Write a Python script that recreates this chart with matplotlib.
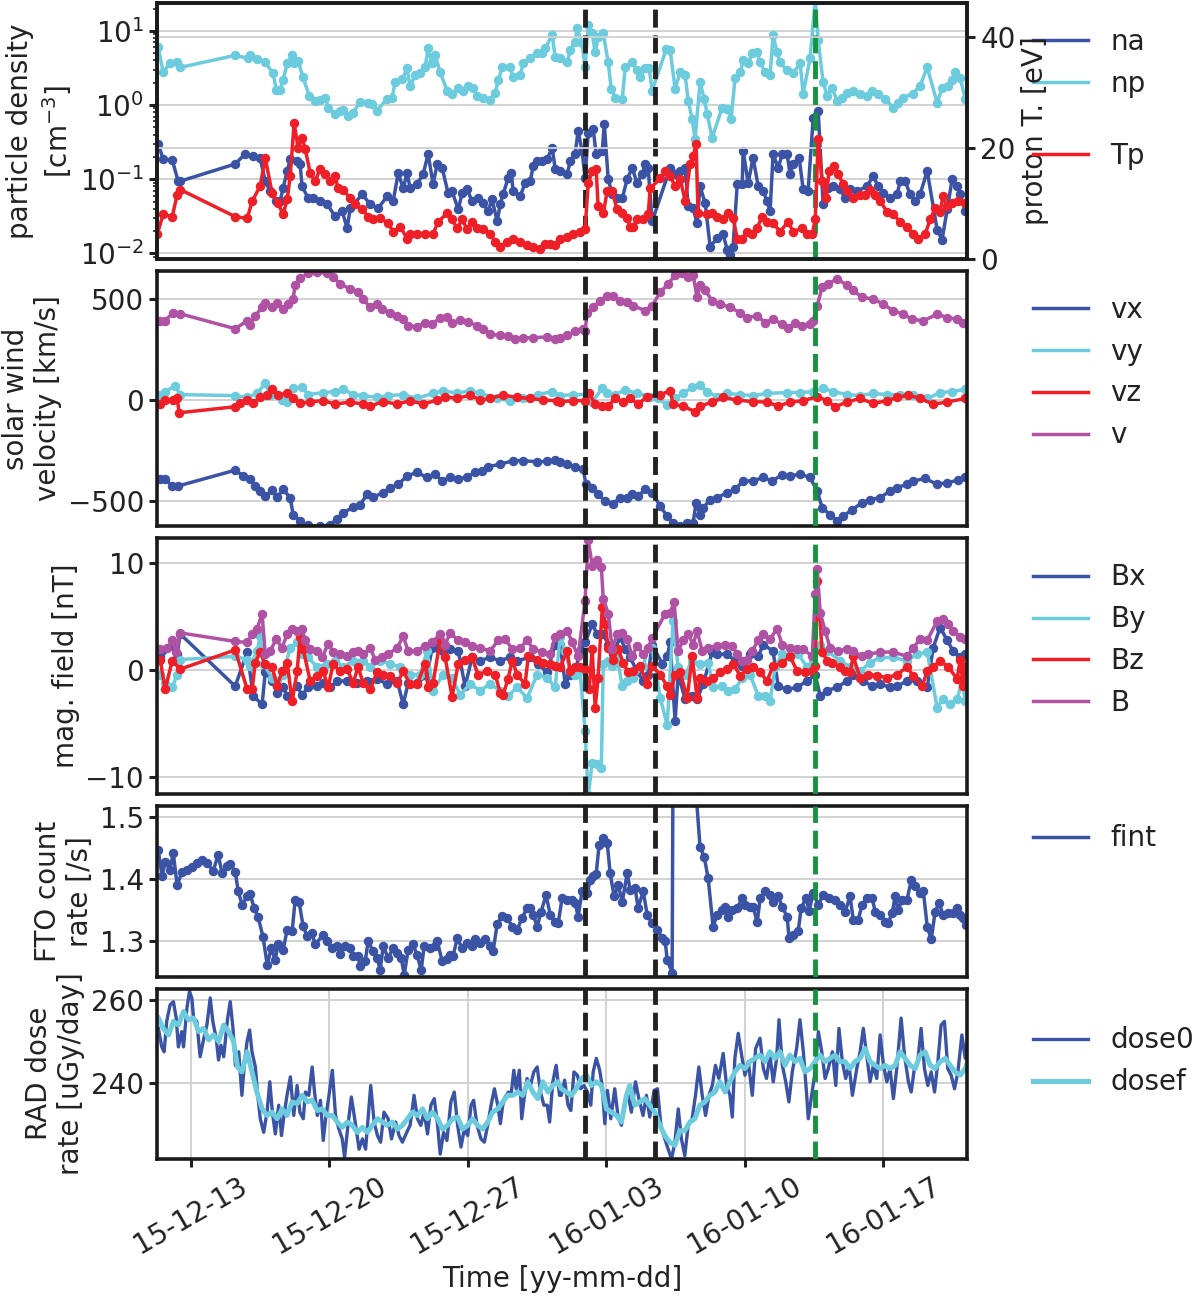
import numpy as np
import pandas as pd
import matplotlib
matplotlib.use("Agg")
import matplotlib.pyplot as plt
import matplotlib.dates as mdates
from matplotlib.lines import Line2D

plt.rcParams['font.family'] = ['DejaVu Sans']
plt.rcParams['font.size'] = 20
plt.rcParams['text.color'] = '#222222'
plt.rcParams['axes.labelcolor'] = '#222222'
plt.rcParams['xtick.color'] = '#222222'
plt.rcParams['ytick.color'] = '#222222'

# ---------------- data (time in days after 2015-12-13 00:00) ----------------
BASE = pd.Timestamp('2015-12-13')

t_np = [-1.65, -1.40, -1.05, -0.69, -0.54, 2.24, 2.89, 3.00, 3.35, 3.76, 4.16, 4.31, 4.51, 4.66, 4.87, 5.12, 5.22, 5.42,
        5.67, 5.98, 6.28, 6.53, 6.79, 6.94, 7.29, 7.54, 7.70, 7.95, 8.20, 8.55, 8.96, 9.16, 9.41, 9.92, 10.17, 10.32,
        10.68, 10.93, 11.08, 11.33, 11.59, 11.84, 11.99, 12.19, 12.35, 12.60, 12.95, 13.20, 13.51, 13.76, 14.01, 14.26,
        14.47, 14.77, 15.12, 15.38, 15.53, 15.73, 16.13, 16.29, 16.64, 16.79, 17.15, 17.50, 17.75, 17.90, 18.26, 18.41,
        18.66, 19.02, 19.17, 19.42, 19.52, 19.77, 19.92, 20.08, 20.28, 20.43, 20.58, 20.84, 21.09, 21.24, 21.44, 21.80,
        21.95, 22.30, 22.55, 22.70, 22.96, 23.16, 23.31, 24.02, 24.22, 24.47, 24.73, 24.98, 25.13, 25.33, 25.48, 25.73,
        25.94, 26.09, 26.34, 26.85, 27.10, 27.30, 27.50, 27.76, 27.91, 28.16, 28.36, 28.61, 28.77, 29.02, 29.27, 29.42,
        29.62, 29.78, 30.13, 30.43, 30.79, 30.94, 31.29, 31.55, 31.70, 31.95, 32.15, 32.40, 32.66, 32.91, 33.16, 33.47,
        33.82, 34.17, 34.43, 34.73, 35.08, 35.49, 35.74, 35.99, 36.50, 36.85, 37.21, 37.71, 37.96, 38.27, 38.47, 38.62,
        38.88, 39.13]
np_log10 = [0.783, 0.444, 0.562, 0.575, 0.507, 0.670, 0.630, 0.670, 0.616, 0.575, 0.426, 0.209, 0.209, 0.331, 0.562,
            0.670, 0.562, 0.589, 0.372, 0.128, 0.060, 0.073, 0.100, -0.035, -0.117, -0.076, -0.062, -0.144, -0.103,
            0.046, 0.033, 0.019, -0.076, 0.087, 0.100, 0.304, 0.345, 0.494, 0.250, 0.399, 0.426, 0.507, 0.765, 0.562,
            0.670, 0.440, 0.195, 0.155, 0.223, 0.195, 0.263, 0.236, 0.128, 0.100, 0.073, 0.168, 0.331, 0.507, 0.507,
            0.372, 0.399, 0.562, 0.630, 0.697, 0.697, 0.765, 0.942, 0.643, 0.630, 0.575, 0.738, 0.847, 1.037, 0.833,
            0.507, 1.077, 0.969, 0.711, 0.915, 0.969, 0.575, 0.222, 0.100, 0.087, 0.507, 0.575, 0.467, 0.372, 0.494,
            0.494, 0.195, 0.752, 0.738, 0.222, 0.440, 0.399, 0.060, -0.185, -0.457, 0.304, 0.087, -0.117, -0.443,
            -0.035, -0.049, -0.185, 0.358, 0.440, 0.602, 0.562, 0.697, 0.711, 0.575, 0.440, 0.399, 0.942, 0.711, 0.575,
            0.467, 0.426, 0.562, 0.155, 0.630, 1.420, 0.874, 0.304, 0.128, 0.223, 0.060, 0.100, 0.168, 0.195, 0.155,
            0.128, 0.195, 0.155, 0.087, -0.035, 0.033, 0.100, 0.155, 0.263, 0.507, 0.033, 0.223, 0.263, 0.331, 0.440,
            0.358, 0.087]

t_na = [-1.65, -1.40, -0.94, -0.64, -0.54, 2.24, 2.74, 3.15, 3.50, 3.76, 4.01, 4.31, 4.51, 4.66, 4.87, 5.02, 5.37, 5.52,
        5.62, 5.93, 6.18, 6.53, 6.89, 7.29, 7.65, 7.90, 8.05, 8.66, 9.06, 9.46, 9.92, 10.22, 10.48, 10.73, 10.93, 11.08,
        11.43, 11.74, 11.99, 12.24, 12.45, 12.70, 13.00, 13.20, 13.51, 13.71, 13.96, 14.21, 14.51, 14.77, 15.02, 15.22,
        15.48, 15.63, 15.78, 16.03, 16.19, 16.29, 16.64, 16.89, 17.15, 17.30, 17.50, 17.75, 18.00, 18.26, 18.41, 18.66,
        19.02, 19.17, 19.42, 19.57, 19.77, 19.92, 20.08, 20.33, 20.48, 20.79, 20.89, 21.09, 21.29, 21.54, 21.80, 22.05,
        22.30, 22.55, 22.80, 22.96, 23.11, 23.31, 24.22, 24.47, 24.73, 24.98, 25.13, 25.38, 25.58, 25.73, 25.99, 26.24,
        26.59, 26.90, 27.10, 27.25, 27.40, 27.61, 27.86, 27.91, 28.16, 28.41, 28.67, 28.92, 29.12, 29.27, 29.42, 29.68,
        29.88, 30.13, 30.28, 30.43, 30.74, 30.94, 31.19, 31.45, 31.70, 31.95, 32.20, 32.45, 32.81, 33.06, 33.31, 33.67,
        34.17, 34.48, 34.73, 34.98, 35.33, 35.69, 35.84, 36.09, 36.35, 36.60, 36.85, 37.21, 37.71, 37.96, 38.22, 38.47,
        38.72, 38.88, 39.13]
na_log10 = [-0.524, -0.728, -0.742, -1.027, -1.027, -0.795, -0.660, -0.687, -0.714, -1.027, -1.162, -1.298, -1.298,
            -1.121, -0.890, -0.728, -0.755, -0.795, -1.094, -1.257, -1.257, -1.298, -1.338, -1.501, -1.433, -1.664,
            -1.393, -1.203, -1.338, -1.393, -1.230, -1.298, -0.918, -1.121, -0.918, -1.121, -1.067, -0.931, -0.660,
            -1.067, -0.795, -0.849, -1.189, -1.162, -1.406, -1.189, -1.134, -1.298, -1.257, -1.325, -1.433, -1.270,
            -1.569, -1.338, -1.203, -0.985, -0.918, -1.162, -1.230, -1.053, -1.027, -0.822, -0.755, -0.755, -0.728,
            -0.578, -0.863, -0.890, -0.931, -0.755, -0.660, -0.347, -0.619, -0.985, -0.375, -0.320, -0.660, -0.619,
            -0.252, -0.999, -1.203, -1.257, -1.257, -0.999, -0.849, -1.053, -0.931, -0.795, -0.849, -1.569, -0.849,
            -0.931, -0.890, -0.849, -1.365, -1.393, -1.596, -1.094, -1.325, -1.908, -1.799, -1.745, -1.949, -2.017,
            -1.908, -1.067, -1.067, -0.619, -1.053, -0.714, -1.094, -1.162, -1.298, -1.433, -0.660, -0.849, -0.660,
            -0.660, -0.931, -0.795, -0.714, -1.134, -1.162, -0.172, -0.076, -1.338, -1.121, -1.094, -1.134, -1.257,
            -1.134, -1.162, -1.094, -0.958, -1.094, -1.189, -1.257, -1.203, -1.027, -1.027, -1.203, -1.298, -1.203,
            -0.890, -1.680, -1.816, -1.406, -0.999, -1.094, -1.203, -1.433]

t_tp = [-1.70, -1.40, -0.94, -0.69, -0.54, 2.24, 2.85, 3.10, 3.50, 3.76, 4.11, 4.41, 4.66, 4.87, 5.02, 5.22, 5.42, 5.62,
        5.78, 6.03, 6.28, 6.53, 6.79, 7.04, 7.29, 7.44, 7.70, 8.05, 8.30, 8.66, 8.96, 9.21, 9.57, 9.97, 10.22, 10.58,
        10.93, 11.08, 11.43, 11.84, 12.24, 12.50, 12.95, 13.20, 13.46, 13.71, 13.96, 14.21, 14.47, 14.77, 15.12, 15.38,
        15.63, 15.98, 16.29, 16.64, 16.99, 17.30, 17.65, 17.90, 18.16, 18.41, 18.66, 19.02, 19.32, 19.67, 19.92, 20.08,
        20.28, 20.48, 20.58, 20.84, 21.04, 21.29, 21.54, 21.80, 22.05, 22.20, 22.35, 22.55, 22.86, 23.11, 23.21, 23.72,
        23.97, 24.22, 24.47, 24.73, 24.98, 25.23, 25.38, 25.53, 25.63, 26.09, 26.34, 26.59, 26.90, 27.15, 27.40, 27.61,
        27.86, 28.11, 28.36, 28.61, 28.87, 29.12, 29.42, 29.78, 30.18, 30.43, 30.89, 31.14, 31.40, 31.55, 31.70, 31.90,
        32.10, 32.25, 32.51, 32.71, 32.96, 33.16, 33.47, 33.82, 34.07, 34.33, 34.58, 34.83, 35.18, 35.49, 35.84, 36.19,
        36.50, 36.75, 37.11, 37.36, 37.61, 37.86, 38.01, 38.22, 38.47, 38.77, 39.13]
tp_ev = [4.4, 8.0, 7.6, 11.6, 12.5, 7.6, 7.3, 10.4, 13.1, 18.2, 11.8, 10.0, 8.0, 10.7, 14.9, 24.5, 20.0, 21.8, 19.8,
         15.5, 14.0, 16.2, 15.3, 14.0, 14.9, 12.7, 12.5, 10.9, 9.8, 8.9, 7.6, 7.1, 7.3, 6.4, 4.9, 5.8, 3.6, 4.5, 4.4, 4.4,
         4.5, 6.7, 8.2, 7.1, 5.5, 7.1, 5.3, 6.7, 5.5, 5.3, 4.5, 3.1, 2.2, 3.1, 3.5, 3.1, 2.5, 2.2, 1.8, 2.7, 2.7, 2.5, 3.6,
         4.0, 4.5, 4.9, 5.3, 13.6, 15.8, 16.2, 9.5, 8.2, 12.2, 12.2, 8.9, 8.2, 7.3, 5.8, 5.8, 7.1, 7.1, 8.0, 12.7, 14.5,
         15.8, 14.9, 13.1, 14.4, 10.4, 17.1, 18.5, 20.7, 8.2, 8.0, 8.2, 7.6, 7.1, 8.2, 7.3, 3.6, 3.5, 4.9, 4.4, 5.5, 7.6,
         6.7, 6.4, 4.9, 6.7, 4.9, 5.5, 4.5, 4.4, 7.1, 21.6, 14.0, 10.9, 15.8, 16.7, 15.3, 13.5, 12.2, 10.9, 11.6, 11.6,
         12.5, 11.6, 10.4, 8.5, 8.0, 6.7, 5.8, 4.4, 3.6, 4.5, 7.1, 9.1, 8.5, 11.3, 9.5, 10.0, 10.4, 10.0]

t_v = [-1.55, -1.30, -0.89, -0.54, 2.24, 2.85, 3.00, 3.25, 3.60, 3.76, 4.11, 4.36, 4.66, 4.92, 5.17, 5.27, 5.52, 5.93,
       6.38, 6.89, 7.19, 7.54, 8.05, 8.45, 8.71, 9.06, 9.41, 9.67, 10.07, 10.43, 10.73, 10.98, 11.43, 11.84, 12.19, 12.60,
       12.95, 13.20, 13.61, 14.01, 14.47, 14.77, 15.12, 15.63, 16.03, 16.39, 16.79, 17.30, 18.00, 18.41, 18.66, 19.02,
       19.42, 19.82, 19.92, 20.03, 20.33, 20.68, 21.04, 21.34, 21.69, 22.05, 22.35, 22.96, 23.31, 23.72, 24.12, 24.47,
       24.83, 25.13, 25.38, 25.58, 25.73, 25.99, 26.34, 26.75, 27.25, 27.76, 28.11, 28.62, 29.02, 29.42, 29.88, 30.18,
       30.54, 30.89, 31.29, 31.45, 31.65, 31.90, 32.20, 32.66, 33.16, 33.47, 33.92, 34.48, 34.98, 35.49, 35.99, 36.45,
       37.01, 37.71, 38.22, 38.72, 39.02]
v_kms = [392, 392, 433, 427, 353, 392, 372, 417, 458, 480, 458, 480, 452, 477, 502, 567, 602, 627, 632, 627, 608, 575,
         550, 537, 500, 458, 475, 450, 433, 417, 400, 367, 363, 383, 375, 408, 413, 383, 397, 387, 367, 350, 325, 320, 317,
         303, 308, 308, 313, 303, 308, 320, 342, 350, 342, 433, 458, 492, 517, 513, 492, 483, 467, 442, 467, 533, 575, 617,
         630, 608, 617, 508, 567, 542, 492, 475, 458, 433, 408, 417, 383, 400, 375, 358, 383, 367, 375, 392, 467, 558, 575,
         600, 567, 542, 508, 500, 475, 442, 425, 400, 392, 425, 408, 400, 383]

t_vx = [-1.55, -1.30, -0.94, -0.64, 2.24, 2.65, 3.00, 3.25, 3.50, 3.76, 4.11, 4.36, 4.66, 5.02, 5.17, 5.52, 5.93, 6.53,
        7.04, 7.39, 7.70, 8.20, 8.55, 8.91, 9.21, 9.72, 10.07, 10.48, 10.93, 11.43, 11.94, 12.35, 12.70, 13.10, 13.51,
        13.96, 14.37, 14.72, 15.02, 15.63, 16.29, 16.79, 17.50, 18.00, 18.41, 18.66, 19.02, 19.42, 19.82, 19.97, 20.28,
        20.58, 20.94, 21.34, 21.69, 22.05, 22.30, 22.60, 22.96, 23.31, 23.72, 24.07, 24.37, 24.73, 25.08, 25.38, 25.53,
        25.73, 25.89, 26.24, 26.59, 27.10, 27.50, 27.91, 28.41, 28.92, 29.37, 29.88, 30.28, 30.79, 31.29, 31.65, 31.90,
        32.30, 32.66, 32.96, 33.42, 33.92, 34.33, 34.83, 35.33, 35.69, 36.19, 36.50, 37.11, 37.71, 38.22, 38.77, 39.13]
vx_kms = [-392, -392, -425, -425, -347, -375, -392, -425, -450, -475, -447, -480, -442, -483, -567, -600, -620, -625,
          -617, -587, -558, -530, -517, -467, -480, -458, -433, -417, -375, -358, -383, -367, -400, -380, -392, -380,
          -358, -353, -330, -317, -300, -300, -305, -303, -297, -308, -317, -333, -342, -417, -433, -467, -500, -513,
          -483, -483, -467, -475, -442, -458, -525, -575, -608, -625, -608, -608, -508, -567, -533, -492, -483, -458,
          -442, -400, -400, -383, -400, -370, -375, -367, -383, -450, -533, -567, -600, -575, -542, -508, -492, -483,
          -450, -433, -417, -400, -388, -417, -408, -397, -380]

t_vy = [-1.55, -1.30, -0.79, -0.54, 2.24, 2.85, 3.35, 3.76, 4.01, 4.61, 4.87, 5.17, 5.62, 5.93, 6.69, 7.29, 7.70, 8.20,
        8.71, 9.41, 9.97, 10.73, 11.43, 12.24, 12.75, 13.46, 14.11, 14.62, 15.48, 16.13, 16.79, 17.55, 18.26, 18.66,
        19.32, 20.03, 20.28, 20.79, 21.04, 21.44, 21.95, 22.55, 23.21, 23.62, 24.07, 24.47, 24.88, 25.33, 25.73, 26.09,
        26.59, 27.10, 27.76, 28.41, 29.12, 30.13, 30.79, 31.45, 31.95, 32.45, 33.16, 33.82, 34.48, 35.18, 35.84, 36.50,
        37.21, 37.86, 38.47, 39.13]
vy_kms = [27, 42, 70, 27, 22, 13, 33, 83, 27, 0, -8, 58, 63, 27, 37, 42, 53, 27, 22, 13, 22, 27, 8, 33, 47, 33, 47, 33,
          8, -5, 8, 27, 42, 22, 27, 27, -8, 58, 37, 27, 50, 33, 17, 8, -25, 8, 33, 63, 75, 42, 17, 33, 27, 22, 33, 37,
          37, 42, 58, 42, 27, 22, 33, 27, 27, 27, 8, 37, 42, 53]

t_vz = [-1.55, -1.30, -0.89, -0.69, -0.59, 2.24, 2.49, 2.85, 3.15, 3.50, 3.85, 4.11, 4.41, 4.87, 5.17, 5.52, 6.03, 6.69,
        7.29, 8.05, 8.71, 9.06, 9.72, 10.43, 11.08, 11.74, 12.45, 12.85, 13.46, 14.11, 14.62, 15.12, 15.78, 16.49, 17.15,
        17.80, 18.51, 18.66, 19.32, 19.92, 20.13, 20.43, 20.79, 21.09, 21.44, 21.85, 22.20, 22.60, 23.06, 23.72, 24.22,
        24.37, 24.88, 25.48, 25.73, 26.34, 26.90, 27.61, 28.41, 29.12, 29.68, 30.28, 30.94, 31.65, 32.15, 32.55, 33.16,
        33.82, 34.48, 35.18, 35.69, 36.24, 36.85, 37.51, 38.22, 39.13]
vz_kms = [-20, 0, 0, 8, -63, -33, -17, 0, -17, 17, 25, 53, 25, 33, 8, -17, -8, -3, -20, -10, -20, -30, -8, -20, -3, -20,
          0, 17, 8, 25, 0, 8, 25, 13, 8, 0, -3, -8, -3, -3, 33, -20, -30, -30, 8, -10, 8, -20, 17, 25, 47, -20, -30, -58,
          -30, -10, 13, 0, -8, -10, -30, -10, -3, 17, -3, -33, -10, 8, -17, -3, 13, 25, 8, -20, -10, 8]

t_b = [-1.55, -1.20, -0.94, -0.74, -0.54, 2.24, 2.85, 3.10, 3.35, 3.60, 3.76, 4.01, 4.31, 4.61, 4.87, 5.12, 5.37, 5.62,
       5.78, 6.03, 6.38, 6.64, 6.94, 7.19, 7.54, 7.90, 8.20, 8.45, 8.71, 9.06, 9.31, 9.67, 9.97, 10.43, 10.73, 10.98,
       11.43, 11.84, 12.19, 12.60, 12.85, 13.10, 13.51, 13.86, 14.21, 14.62, 15.12, 15.53, 15.88, 16.24, 16.64, 16.99,
       17.30, 17.75, 18.16, 18.41, 18.66, 19.02, 19.27, 19.57, 19.92, 20.08, 20.28, 20.53, 20.74, 20.84, 21.09, 21.29,
       21.54, 21.80, 22.05, 22.30, 22.55, 22.86, 23.11, 23.31, 23.97, 24.22, 24.42, 24.62, 24.88, 25.13, 25.38, 25.58,
       25.84, 26.14, 26.59, 27.00, 27.35, 27.61, 27.86, 28.11, 28.36, 28.67, 28.92, 29.27, 29.62, 29.88, 30.28, 30.64,
       30.94, 31.40, 31.55, 31.65, 31.80, 32.05, 32.30, 32.71, 33.16, 33.47, 33.92, 34.22, 34.83, 35.49, 36.19, 36.50,
       36.85, 37.21, 37.71, 38.01, 38.27, 38.52, 38.88, 39.13]
b_nt = [2.0, 2.1, 2.8, 1.7, 3.5, 2.7, 2.6, 3.4, 3.9, 5.3, 1.5, 1.8, 2.9, 2.1, 3.4, 3.9, 3.7, 3.9, 2.8, 2.0, 1.8, 1.2, 2.5,
        1.7, 1.5, 1.3, 1.7, 1.8, 1.5, 2.1, 1.0, 1.2, 1.5, 2.1, 3.2, 1.8, 1.8, 2.3, 2.6, 3.4, 2.4, 3.5, 2.8, 2.6, 2.3, 2.1,
        1.8, 2.8, 2.9, 2.0, 2.1, 2.8, 2.0, 1.7, 1.5, 3.1, 3.4, 3.7, 2.6, 1.3, 6.5, 12.2, 9.8, 10.3, 9.7, 6.7, 5.3, 2.0,
        3.4, 3.5, 2.9, 1.3, 2.3, 1.5, 2.1, 3.0, 5.3, 5.4, 6.4, 1.8, 2.8, 3.4, 2.4, 3.7, 1.8, 2.1, 2.3, 2.4, 2.3, 1.5, 0.9,
        1.0, 1.8, 2.8, 3.4, 2.9, 3.9, 2.4, 2.1, 2.0, 2.0, 1.3, 7.1, 9.5, 5.4, 3.7, 2.1, 1.8, 2.0, 1.8, 1.3, 1.5, 1.7, 1.7,
        1.3, 2.1, 2.9, 2.8, 4.6, 4.8, 4.3, 3.7, 3.1, 2.9]

t_bx = [-1.55, -0.94, -0.69, -0.54, 2.24, 2.85, 3.15, 3.60, 3.76, 4.11, 4.36, 4.66, 4.87, 5.37, 5.62, 5.93, 6.38, 6.69,
        7.04, 7.39, 7.90, 8.40, 8.91, 9.41, 9.92, 10.43, 10.73, 10.98, 11.43, 11.94, 12.19, 12.50, 12.75, 13.10, 13.51,
        13.86, 14.21, 14.62, 15.12, 15.63, 16.13, 16.49, 17.15, 17.55, 18.00, 18.41, 18.66, 18.92, 19.17, 19.42, 19.67,
        19.92, 20.28, 20.53, 20.84, 21.09, 21.34, 21.69, 21.95, 22.20, 22.55, 22.86, 23.11, 23.31, 23.82, 24.07, 24.22,
        24.47, 24.62, 24.98, 25.33, 25.58, 25.89, 26.34, 26.59, 27.10, 27.50, 27.86, 28.26, 28.67, 28.92, 29.42, 29.68,
        30.13, 30.64, 31.14, 31.55, 31.80, 32.15, 32.66, 33.16, 33.47, 33.97, 34.43, 34.83, 35.33, 35.69, 36.19, 36.70,
        37.21, 37.51, 37.86, 38.22, 38.52, 38.88, 39.13]
bx_nt = [1.2, 2.3, 1.5, 3.4, -1.5, 1.7, -2.4, -3.2, -0.2, -1.0, -2.1, -1.6, -2.4, -1.5, -2.3, -1.6, -1.5, -1.2, -1.6,
         -1.0, -1.0, -1.2, -1.0, -0.8, -1.3, -1.0, -3.2, -1.2, -1.2, -0.5, 2.1, 2.1, 1.8, 2.0, 1.8, -1.5, 1.2, 0.9, 1.2,
         0.9, 1.2, 0.9, 1.2, 0.6, -0.2, 2.4, 2.4, -1.3, -0.4, -0.2, 1.8, 2.6, 4.3, 3.4, 3.4, 2.4, 1.5, 3.1, 2.0, 1.2, -0.1,
         -1.0, -0.4, 2.4, 0.6, 1.3, 2.6, -4.8, -0.4, -2.7, -2.4, -2.7, -1.3, 1.7, 1.5, 1.5, 0.9, 0.4, 1.5, 1.3, 2.4, 1.8,
         -1.5, -1.8, -1.6, -1.0, -0.4, -2.4, -1.9, -1.6, -1.0, -0.4, -1.0, -1.5, -1.3, -1.6, -1.5, -1.0, -1.0, -1.6, 2.1,
         4.0, 2.8, 1.8, 1.2, 1.5]

t_by = [-1.55, -1.30, -0.94, -0.69, -0.54, 2.24, 2.85, 3.00, 3.35, 3.50, 3.66, 4.11, 4.36, 4.66, 5.02, 5.37, 5.62, 5.93,
        6.38, 6.89, 7.29, 7.70, 8.20, 8.71, 9.06, 9.57, 10.07, 10.58, 11.08, 11.59, 11.94, 12.24, 12.75, 13.20, 13.61,
        14.11, 14.62, 15.12, 15.63, 16.03, 16.49, 16.99, 17.50, 18.00, 18.41, 18.66, 18.92, 19.17, 19.42, 19.67, 19.92,
        20.08, 20.28, 20.53, 20.74, 20.84, 21.09, 21.29, 21.54, 21.80, 22.05, 22.35, 22.86, 23.11, 23.31, 23.72, 24.07,
        24.37, 24.62, 24.98, 25.33, 25.73, 26.14, 26.39, 26.85, 27.15, 27.50, 27.86, 28.26, 28.67, 29.02, 29.27, 29.52,
        29.88, 30.28, 30.69, 31.14, 31.45, 31.80, 32.15, 32.81, 33.31, 33.82, 34.33, 34.83, 35.49, 36.19, 36.70, 37.21,
        37.71, 38.01, 38.37, 38.72, 38.98, 39.13]
by_nt = [-0.4, -1.2, -1.6, -0.4, 1.0, 1.3, 1.0, 0.4, 1.8, 3.2, 0.6, -0.7, -1.0, -0.4, 2.1, 2.6, 1.5, 1.2, 0.3, 0.6, 0.9,
         0.3, 0.9, 0.9, 0.3, 0.9, 0.6, 0.3, -0.4, -0.4, 1.8, -1.9, -0.4, -0.7, -2.3, -1.3, -1.9, -1.3, -1.9, -2.4, -1.6,
         -2.6, -0.4, -0.7, -1.6, 3.1, 1.8, -0.1, -0.4, -0.1, -5.7, -11.7, -8.7, -8.8, -9.2, 0.6, 0.9, 0.4, 1.2, -1.5,
         -1.0, -0.7, 0.4, 2.1, 2.1, -2.6, -5.1, 4.6, 0.3, -0.4, 0.9, 0.6, 0.7, -1.6, -1.5, -1.9, -1.8, -0.7, -0.4, -2.4,
         -2.4, -2.9, 0.3, 1.5, 1.2, 1.5, 0.3, 0.9, 2.4, 1.8, 0.9, 0.3, -0.1, 0.7, 1.2, 1.2, 0.9, 1.5, 1.7, -3.5, -2.7,
         -3.2, -2.7, -1.0, -2.9]

t_bz = [-1.55, -1.30, -0.94, -0.54, 2.24, 2.85, 3.10, 3.25, 3.50, 3.76, 4.11, 4.36, 4.61, 4.87, 5.12, 5.37, 5.52, 5.67,
        6.03, 6.38, 6.69, 6.94, 7.19, 7.54, 7.90, 8.20, 8.45, 8.71, 9.06, 9.41, 9.72, 10.07, 10.43, 10.73, 11.08, 11.43,
        11.84, 11.99, 12.24, 12.60, 12.85, 13.20, 13.51, 13.86, 14.21, 14.51, 14.97, 15.38, 15.63, 15.78, 16.03, 16.24,
        16.49, 16.89, 17.05, 17.50, 17.80, 18.16, 18.41, 18.66, 19.02, 19.17, 19.42, 19.67, 19.92, 20.13, 20.28, 20.43,
        20.58, 20.79, 20.94, 21.09, 21.34, 21.59, 21.85, 22.10, 22.35, 22.70, 23.06, 23.31, 23.72, 24.07, 24.22, 24.47,
        24.73, 25.08, 25.33, 25.58, 25.73, 26.09, 26.39, 26.75, 27.10, 27.40, 27.76, 28.11, 28.41, 28.77, 29.12, 29.42,
        29.88, 30.28, 30.64, 31.04, 31.40, 31.55, 31.65, 31.90, 32.15, 32.40, 32.81, 33.06, 33.31, 33.47, 33.82, 34.22,
        34.68, 35.18, 35.69, 36.19, 36.50, 36.95, 37.21, 37.51, 37.86, 38.27, 38.72, 38.88, 39.02, 39.13]
bz_nt = [1.0, -1.8, 0.9, 0.1, 1.9, -1.8, -1.8, 0.7, 1.7, 0.6, 0.3, -1.5, -0.1, 0.7, -2.9, -0.1, 3.1, 2.0, -1.0, -0.5,
         -0.1, -1.6, 0.6, -0.1, 0.1, -1.2, 0.3, -1.2, -1.8, -0.2, -0.4, -0.5, -1.2, -0.1, -1.3, -1.3, 0.6, -1.6, -1.2,
         2.8, 1.2, -2.5, 0.6, 1.0, 1.2, -0.4, -0.1, -0.4, -2.1, -2.3, -0.8, 0.9, -0.4, -1.3, 1.3, 1.0, 0.7, 0.6, 0.4, 0.3,
         1.8, -0.1, 0.3, 0.3, 0.1, -1.8, 2.0, -3.5, -0.7, 5.9, 4.3, 2.1, 1.0, 2.0, 0.7, -0.2, -0.1, 0.4, -1.3, 0.4, -0.4,
         -1.5, -2.3, -0.4, -0.2, -2.6, 1.3, -2.6, -0.7, -1.0, -0.7, -0.2, 0.1, 0.6, -0.5, 0.1, 0.3, -0.2, -1.0, 0.4, 0.7,
         1.3, -0.1, -0.2, -0.1, 0.4, 8.4, 1.7, 0.9, 0.7, 0.3, -0.1, -0.2, 1.3, -0.7, -0.4, -0.5, -0.7, -0.4, 0.3, -0.5,
         -1.5, -0.1, 0.3, 0.9, 0.3, -0.8, 1.0, -1.5, 0.3]

t_fint = [-1.65, -1.45, -1.30, -1.05, -0.89, -0.69, -0.44, -0.19, 0.07, 0.32, 0.57, 0.82, 1.13, 1.38, 1.58, 1.83, 1.99,
          2.24, 2.39, 2.59, 2.85, 3.00, 3.20, 3.40, 3.65, 3.86, 4.06, 4.26, 4.41, 4.66, 4.87, 5.12, 5.27, 5.47, 5.67,
          5.88, 6.13, 6.28, 6.69, 6.89, 7.14, 7.39, 7.54, 7.80, 8.05, 8.20, 8.45, 8.55, 8.81, 8.96, 9.21, 9.41, 9.57,
          9.72, 9.97, 10.22, 10.43, 10.63, 10.78, 10.98, 11.23, 11.43, 11.64, 11.79, 12.09, 12.35, 12.45, 12.70, 12.95,
          13.10, 13.25, 13.46, 13.71, 13.96, 14.21, 14.37, 14.62, 14.87, 15.12, 15.27, 15.48, 15.73, 15.98, 16.24, 16.49,
          16.74, 16.99, 17.15, 17.30, 17.50, 17.70, 17.95, 18.16, 18.41, 18.56, 18.76, 19.02, 19.27, 19.42, 19.57, 19.77,
          20.03, 20.18, 20.33, 20.48, 20.63, 20.84, 21.04, 21.19, 21.39, 21.60, 21.80, 22.05, 22.20, 22.45, 22.60, 22.86,
          23.06, 23.31, 23.56, 23.82, 23.97, 24.07, 24.32, 24.42, 25.73, 25.94, 26.14, 26.39, 26.59, 26.85, 27.00, 27.15,
          27.35, 27.61, 27.86, 28.01, 28.26, 28.41, 28.62, 28.77, 29.02, 29.27, 29.42, 29.68, 29.88, 30.13, 30.23, 30.43,
          30.69, 30.84, 31.09, 31.24, 31.45, 31.70, 31.95, 32.25, 32.56, 32.81, 33.06, 33.31, 33.47, 33.72, 33.92, 34.17,
          34.43, 34.58, 34.83, 35.08, 35.23, 35.44, 35.59, 35.74, 35.94, 36.19, 36.40, 36.60, 36.85, 37.01, 37.21, 37.41,
          37.61, 37.81, 38.01, 38.27, 38.52, 38.72, 38.88, 39.02, 39.17]
fint_rate = [1.447, 1.404, 1.428, 1.415, 1.442, 1.390, 1.412, 1.415, 1.420, 1.426, 1.430, 1.426, 1.413, 1.439, 1.409,
             1.421, 1.424, 1.412, 1.381, 1.358, 1.372, 1.375, 1.353, 1.338, 1.306, 1.261, 1.288, 1.269, 1.294, 1.285,
             1.318, 1.315, 1.366, 1.363, 1.324, 1.307, 1.312, 1.294, 1.310, 1.299, 1.288, 1.291, 1.279, 1.291, 1.288,
             1.275, 1.275, 1.259, 1.267, 1.299, 1.283, 1.272, 1.253, 1.291, 1.272, 1.288, 1.280, 1.272, 1.245, 1.285,
             1.294, 1.277, 1.253, 1.291, 1.288, 1.291, 1.299, 1.267, 1.270, 1.277, 1.275, 1.304, 1.288, 1.296, 1.291,
             1.302, 1.296, 1.303, 1.291, 1.283, 1.327, 1.340, 1.337, 1.323, 1.318, 1.337, 1.353, 1.353, 1.342, 1.323,
             1.347, 1.374, 1.342, 1.331, 1.328, 1.369, 1.366, 1.366, 1.361, 1.339, 1.380, 1.377, 1.398, 1.404, 1.408,
             1.455, 1.466, 1.458, 1.409, 1.372, 1.390, 1.363, 1.409, 1.382, 1.385, 1.353, 1.380, 1.342, 1.328, 1.318,
             1.304, 1.299, 1.269, 1.248, 2.020, 1.452, 1.436, 1.401, 1.323, 1.342, 1.350, 1.355, 1.339, 1.350, 1.353,
             1.369, 1.358, 1.355, 1.355, 1.330, 1.369, 1.380, 1.374, 1.363, 1.372, 1.355, 1.339, 1.304, 1.310, 1.315,
             1.353, 1.369, 1.348, 1.378, 1.358, 1.374, 1.369, 1.366, 1.358, 1.347, 1.372, 1.334, 1.334, 1.358, 1.369,
             1.369, 1.347, 1.342, 1.331, 1.328, 1.345, 1.372, 1.350, 1.366, 1.366, 1.398, 1.388, 1.377, 1.381, 1.323,
             1.302, 1.347, 1.361, 1.342, 1.345, 1.345, 1.353, 1.342, 1.337, 1.326]

t_dose0 = [-1.64, -1.47, -1.35, -1.22, -1.05, -0.88, -0.74, -0.63, -0.46, -0.37, -0.20, -0.07, 0.05, 0.14, 0.30, 0.47,
           0.64, 0.81, 0.98, 1.11, 1.28, 1.40, 1.52, 1.66, 1.86, 1.99, 2.13, 2.25, 2.42, 2.58, 2.70, 2.84, 2.97, 3.09,
           3.26, 3.38, 3.51, 3.68, 3.85, 3.99, 4.12, 4.27, 4.44, 4.58, 4.73, 4.86, 5.03, 5.20, 5.37, 5.51, 5.68, 5.79,
           5.96, 6.13, 6.25, 6.39, 6.55, 6.69, 6.81, 6.98, 7.15, 7.31, 7.48, 7.65, 7.77, 7.94, 8.11, 8.28, 8.50, 8.67,
           8.83, 9.09, 9.26, 9.43, 9.59, 9.76, 9.97, 10.14, 10.35, 10.52, 10.69, 10.91, 11.08, 11.28, 11.45, 11.62,
           11.79, 11.96, 12.13, 12.30, 12.47, 12.60, 12.77, 12.94, 13.14, 13.31, 13.48, 13.65, 13.82, 13.99, 14.16,
           14.29, 14.46, 14.66, 14.83, 15.00, 15.17, 15.34, 15.51, 15.64, 15.76, 15.88, 16.05, 16.18, 16.32, 16.44,
           16.60, 16.72, 16.86, 16.99, 17.16, 17.33, 17.50, 17.67, 17.84, 18.01, 18.13, 18.29, 18.46, 18.63, 18.72,
           18.89, 19.06, 19.20, 19.36, 19.53, 19.70, 19.87, 20.04, 20.21, 20.33, 20.49, 20.66, 20.78, 20.92, 21.05,
           21.22, 21.42, 21.59, 21.76, 21.93, 22.10, 22.26, 22.47, 22.64, 22.85, 23.02, 23.19, 23.41, 23.58, 23.75,
           23.95, 24.12, 24.29, 24.46, 24.63, 24.79, 24.96, 25.13, 25.33, 25.50, 25.67, 25.84, 26.01, 26.18, 26.35,
           26.51, 26.68, 26.90, 27.07, 27.24, 27.36, 27.49, 27.66, 27.83, 28.00, 28.17, 28.37, 28.54, 28.76, 28.93,
           29.09, 29.26, 29.43, 29.60, 29.72, 29.89, 30.06, 30.22, 30.39, 30.61, 30.78, 30.95, 31.12, 31.20, 31.37,
           31.54, 31.71, 31.88, 32.05, 32.21, 32.42, 32.59, 32.75, 32.92, 33.09, 33.26, 33.43, 33.65, 33.82, 33.98,
           34.15, 34.32, 34.49, 34.66, 34.83, 35.00, 35.17, 35.33, 35.50, 35.67, 35.89, 36.06, 36.26, 36.40, 36.56,
           36.73, 36.90, 37.07, 37.24, 37.41, 37.58, 37.75, 37.91, 38.08, 38.25, 38.42, 38.59, 38.76, 38.96, 39.13,
           39.26]
dose0_rate = [253.2, 248.7, 247.5, 254.9, 258.9, 259.7, 255.7, 248.7, 252.4, 248.7, 258.1, 262.2, 260.6, 255.7, 254.9,
              246.3, 250.4, 254.0, 260.6, 254.9, 250.8, 245.5, 249.1, 246.3, 255.7, 259.7, 253.2, 244.2, 247.5, 236.9,
              244.2, 250.0, 252.8, 247.5, 243.8, 236.9, 231.2, 227.9, 232.8, 240.2, 232.8, 227.5, 234.5, 227.1, 232.8,
              236.9, 241.4, 232.0, 239.3, 232.8, 231.2, 237.7, 236.9, 243.8, 237.7, 232.0, 235.7, 225.9, 231.2, 236.9,
              243.0, 232.0, 228.7, 226.3, 221.8, 229.6, 236.5, 231.2, 223.8, 226.3, 223.8, 239.3, 230.4, 227.1, 225.5,
              232.8, 231.2, 226.3, 230.4, 227.1, 225.5, 227.9, 229.6, 236.9, 231.2, 229.6, 232.8, 227.5, 234.5, 236.1,
              229.6, 222.6, 227.9, 225.9, 235.3, 237.7, 229.6, 224.3, 228.7, 227.1, 234.5, 235.7, 229.6, 226.3, 225.5,
              229.6, 234.5, 238.5, 234.5, 230.0, 234.5, 236.5, 237.7, 236.9, 243.0, 238.5, 243.0, 231.2, 236.9, 241.0,
              239.3, 242.6, 243.8, 237.7, 234.5, 234.5, 230.4, 240.2, 244.2, 236.9, 236.9, 240.6, 234.5, 233.2, 242.6,
              241.8, 238.5, 239.3, 237.7, 234.5, 242.6, 245.9, 243.0, 239.3, 230.0, 238.1, 231.2, 238.5, 231.6, 229.6,
              235.3, 236.9, 232.8, 240.2, 236.1, 232.0, 236.9, 231.6, 238.1, 238.5, 229.6, 226.3, 223.8, 221.4, 225.5,
              233.6, 226.3, 222.2, 229.6, 231.2, 236.9, 243.8, 236.9, 232.0, 236.9, 239.3, 244.2, 241.0, 247.1, 239.3,
              236.9, 231.6, 245.9, 252.0, 246.7, 241.8, 245.1, 236.9, 248.3, 250.8, 243.4, 241.0, 246.7, 240.2, 245.9,
              255.3, 244.2, 240.2, 235.3, 242.6, 248.3, 255.3, 247.5, 236.9, 231.2, 236.9, 242.6, 252.4, 247.5, 241.0,
              243.4, 247.5, 239.3, 253.2, 245.1, 241.0, 244.2, 236.9, 243.4, 247.5, 253.2, 246.7, 240.2, 244.2, 241.0,
              251.6, 244.2, 240.2, 243.4, 236.1, 243.4, 255.7, 246.7, 240.2, 237.7, 243.4, 245.1, 253.2, 243.4, 239.3,
              242.6, 237.7, 245.1, 254.0, 254.9, 243.4, 241.8, 238.5, 242.6, 251.6, 245.9, 250.8]

t_dosef = [-1.64, -1.39, -1.13, -0.88, -0.63, -0.37, -0.12, 0.14, 0.39, 0.64, 0.90, 1.15, 1.40, 1.66, 1.91, 2.16, 2.36,
           2.58, 2.84, 3.09, 3.34, 3.60, 3.85, 4.10, 4.36, 4.61, 4.86, 5.12, 5.37, 5.63, 5.88, 6.13, 6.39, 6.64, 6.89,
           7.15, 7.40, 7.65, 7.91, 8.16, 8.41, 8.67, 8.92, 9.17, 9.43, 9.68, 9.93, 10.19, 10.44, 10.69, 10.95, 11.20,
           11.45, 11.71, 11.96, 12.21, 12.47, 12.72, 12.97, 13.23, 13.48, 13.73, 13.99, 14.24, 14.49, 14.75, 15.00,
           15.25, 15.51, 15.76, 16.01, 16.27, 16.52, 16.77, 17.03, 17.28, 17.53, 17.79, 18.04, 18.29, 18.55, 18.72,
           18.98, 19.23, 19.48, 19.74, 19.99, 20.24, 20.49, 20.75, 21.00, 21.25, 21.51, 21.76, 22.01, 22.18, 22.43,
           22.69, 22.94, 23.19, 23.45, 23.70, 23.95, 24.20, 24.46, 24.71, 24.96, 25.22, 25.47, 25.72, 25.97, 26.23,
           26.48, 26.73, 26.99, 27.24, 27.49, 27.75, 28.00, 28.25, 28.50, 28.76, 29.01, 29.26, 29.52, 29.77, 30.02,
           30.27, 30.53, 30.78, 31.03, 31.29, 31.54, 31.79, 32.05, 32.30, 32.55, 32.80, 33.06, 33.31, 33.56, 33.82,
           34.07, 34.32, 34.58, 34.83, 35.08, 35.33, 35.59, 35.84, 36.09, 36.35, 36.60, 36.85, 37.10, 37.36, 37.61,
           37.86, 38.12, 38.37, 38.62, 38.88, 39.13, 39.26]
dosef_rate = [255.7, 253.2, 251.6, 254.9, 254.0, 257.3, 255.3, 255.7, 252.4, 253.2, 250.4, 251.6, 250.0, 254.0, 252.4,
              250.0, 243.8, 242.6, 247.5, 242.6, 237.7, 233.6, 232.0, 232.8, 231.2, 233.6, 232.0, 235.3, 234.9, 236.9,
              235.3, 235.7, 233.2, 233.6, 232.0, 232.0, 230.4, 229.1, 230.4, 229.6, 227.9, 229.1, 227.9, 229.6, 231.2,
              230.4, 229.6, 230.4, 228.7, 229.6, 231.2, 232.8, 232.0, 233.6, 231.2, 232.8, 231.2, 228.7, 229.6, 231.2,
              231.6, 228.7, 229.6, 231.2, 229.6, 228.7, 230.4, 232.8, 233.6, 235.3, 236.9, 236.9, 237.7, 236.9, 240.2,
              237.7, 236.1, 240.2, 237.7, 239.3, 240.2, 238.5, 237.7, 236.9, 238.5, 241.0, 241.8, 239.3, 240.2, 239.3,
              233.6, 232.8, 232.0, 230.4, 236.9, 239.3, 234.5, 235.3, 236.1, 234.5, 232.8, 229.6, 227.1, 225.5, 224.7,
              228.3, 228.3, 230.4, 231.2, 234.5, 235.3, 236.9, 237.7, 240.2, 237.7, 240.2, 242.6, 244.2, 243.4, 245.1,
              245.9, 246.7, 245.1, 247.5, 245.9, 247.5, 244.2, 246.7, 245.1, 245.9, 242.6, 243.4, 245.1, 246.7, 245.1,
              245.9, 246.7, 245.1, 245.1, 243.4, 245.1, 245.9, 248.3, 245.1, 244.2, 243.4, 244.2, 243.4, 244.2, 247.5,
              245.9, 244.2, 243.4, 246.7, 247.5, 244.2, 243.4, 245.1, 245.9, 244.2, 242.6, 241.8, 243.4, 245.1]

event_shock_days = [19.92, 23.43]   # black dashed markers
event_green_days = [31.55]          # green dashed marker
x_range_days = [-1.70, 39.23]


def to_time(days):
    return BASE + pd.to_timedelta(np.asarray(days, dtype=float), unit='D')


# ---------------- colours / styles ----------------
C_BLUE = '#3a53a4'
C_CYAN = '#6ccbdc'
C_RED = '#ee1f26'
C_MAG = '#b052a3'
C_GREEN = '#17923f'
C_BLACK = '#222222'
GRID = '#cfcfcf'
LW = 2.5
MS = 5.8

fig = plt.figure(figsize=(12, 12.96), dpi=100)
gs = fig.add_gridspec(5, 1, height_ratios=[3, 3, 3, 2, 2], hspace=0.054,
                      left=0.131, right=0.806, top=0.9977, bottom=0.1057)
ax1 = fig.add_subplot(gs[0])
ax2 = fig.add_subplot(gs[1], sharex=ax1)
ax3 = fig.add_subplot(gs[2], sharex=ax1)
ax4 = fig.add_subplot(gs[3], sharex=ax1)
ax5 = fig.add_subplot(gs[4], sharex=ax1)
axes = [ax1, ax2, ax3, ax4, ax5]

mk = dict(marker='o', markersize=MS, lw=LW)

# panel 1
ax1.plot(to_time(t_na), 10 ** np.array(na_log10), color=C_BLUE, **mk)
ax1.plot(to_time(t_np), 10 ** np.array(np_log10), color=C_CYAN, **mk)
ax1.set_yscale('log')
ax1.set_ylim(10 ** -2.072, 10 ** 1.376)
ax1.set_ylabel('particle density\n[cm$^{-3}$]')
ax1t = ax1.twinx()
ax1t.plot(to_time(t_tp), tp_ev, color=C_RED, **mk)
ax1t.set_ylim(0, 46.2)
ax1t.set_yticks([0, 20, 40])
ax1t.set_ylabel('proton T. [eV]')

# panel 2
ax2.plot(to_time(t_vx), vx_kms, color=C_BLUE, **mk)
ax2.plot(to_time(t_vy), vy_kms, color=C_CYAN, **mk)
ax2.plot(to_time(t_vz), vz_kms, color=C_RED, **mk)
ax2.plot(to_time(t_v), v_kms, color=C_MAG, **mk)
ax2.set_ylim(-625, 640)
ax2.set_yticks([-500, 0, 500])
ax2.set_ylabel('solar wind\nvelocity [km/s]')

# panel 3
ax3.plot(to_time(t_bx), bx_nt, color=C_BLUE, **mk)
ax3.plot(to_time(t_by), by_nt, color=C_CYAN, **mk)
ax3.plot(to_time(t_bz), bz_nt, color=C_RED, **mk)
ax3.plot(to_time(t_b), b_nt, color=C_MAG, **mk)
ax3.set_ylim(-11.6, 12.35)
ax3.set_yticks([-10, 0, 10])
ax3.set_ylabel('mag. field [nT]')

# panel 4
ax4.plot(to_time(t_fint), fint_rate, color=C_BLUE, **mk)
ax4.set_ylim(1.242, 1.518)
ax4.set_yticks([1.3, 1.4, 1.5])
ax4.set_ylabel('FTO count\nrate [/s]')

# panel 5
ax5.plot(to_time(t_dose0), dose0_rate, color=C_BLUE, lw=2.4)
ax5.plot(to_time(t_dosef), dosef_rate, color=C_CYAN, lw=3.6)
ax5.set_ylim(221.4, 262.9)
ax5.set_yticks([240, 260])
ax5.set_ylabel('RAD dose\nrate [uGy/day]')

# event markers
for ax in axes:
    for d in event_shock_days:
        ax.axvline(to_time([d])[0], color=C_BLACK, ls='--', lw=3.5, zorder=5)
    for d in event_green_days:
        ax.axvline(to_time([d])[0], color=C_GREEN, ls='--', lw=3.5, zorder=5)

# styling
for ax in axes + [ax1t]:
    for sp in ax.spines.values():
        sp.set_linewidth(2.6)
        sp.set_color('#1a1a1a')
    ax.tick_params(axis='both', which='major', direction='out', length=6, width=2.2, labelsize=20)
    ax.tick_params(axis='both', which='minor', direction='out', length=3, width=1.2)
for ax in axes:
    ax.grid(True, axis='y', color=GRID, lw=1.3)
    ax.set_axisbelow(True)
ax1t.grid(True, axis='y', color=GRID, lw=1.3)
ax5.grid(True, axis='x', color=GRID, lw=1.3)

ax1.set_xlim(to_time([x_range_days[0]])[0], to_time([x_range_days[1]])[0])
ax5.xaxis.set_major_locator(mdates.WeekdayLocator(byweekday=mdates.SU))
ax5.xaxis.set_major_formatter(mdates.DateFormatter('%y-%m-%d'))
for ax in axes[:-1]:
    plt.setp(ax.get_xticklabels(), visible=False)
    ax.tick_params(axis='x', length=0)
plt.setp(ax5.get_xticklabels(), rotation=30, ha='center')
ax5.set_xlabel('Time [yy-mm-dd]')


def handles(colors, lws=None):
    lws = lws or [LW] * len(colors)
    return [Line2D([], [], color=c, lw=w) for c, w in zip(colors, lws)]


leg_kw = dict(loc='upper left', frameon=False, fontsize=20, handlelength=2.0, borderaxespad=0.5)
ax1.legend(handles([C_BLUE, C_CYAN]), ['na', 'np'], bbox_to_anchor=(1.05, 1.0), **leg_kw)
ax1t.legend(handles([C_RED]), ['Tp'], bbox_to_anchor=(1.05, 0.555), **leg_kw)
ax2.legend(handles([C_BLUE, C_CYAN, C_RED, C_MAG]), ['vx', 'vy', 'vz', 'v'], bbox_to_anchor=(1.05, 1.0), **leg_kw)
ax3.legend(handles([C_BLUE, C_CYAN, C_RED, C_MAG]), ['Bx', 'By', 'Bz', 'B'], bbox_to_anchor=(1.05, 1.0), **leg_kw)
ax4.legend(handles([C_BLUE]), ['fint'], bbox_to_anchor=(1.05, 1.04), **leg_kw)
ax5.legend(handles([C_BLUE, C_CYAN], [2.4, 3.6]), ['dose0', 'dosef'], bbox_to_anchor=(1.05, 0.924), **leg_kw)

fig.savefig('out.png', dpi=100)
